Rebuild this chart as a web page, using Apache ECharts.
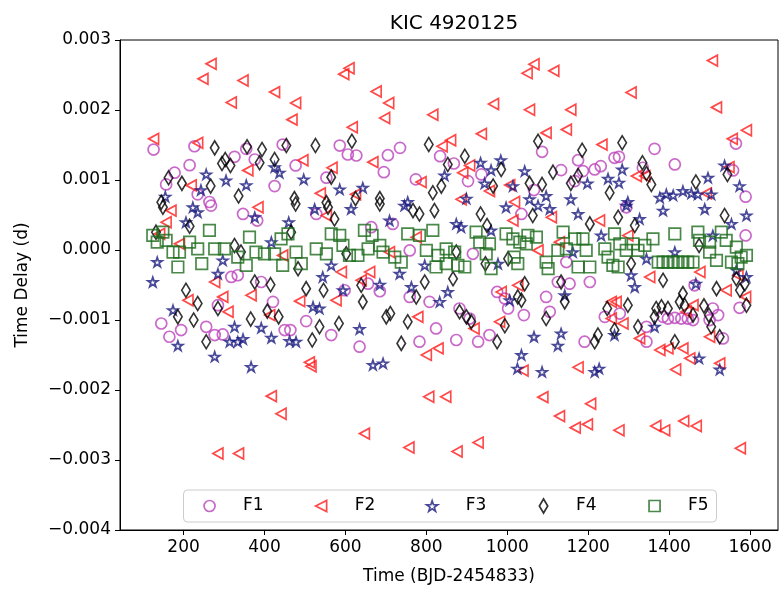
<!DOCTYPE html>
<html>
<head>
<meta charset="utf-8">
<script src="https://cdn.jsdelivr.net/npm/echarts@6/dist/echarts.min.js"></script>
<style>html,body{margin:0;padding:0;background:#fff}#c{width:779px;height:591px}</style>
</head>
<body>
<div id="c"></div>
<script>
const seriesNames = ['F1', 'F2', 'F3', 'F4', 'F5'];
const xTicks = [200, 400, 600, 800, 1000, 1200, 1400, 1600];

const f1 = [[126,0.001435],[227,0.001482],[215,0.001212],[326,0.001331],[376,0.001293],[355,0.001445],[445,0.001506],[178,0.001104],[157,0.000937],[235,0.000795],[425,0.000913],[264,0.000686],
[586,0.001492],[606,0.001364],[627,0.00135],[705,0.001354],[735,0.001459],[695,0.001112],[477,0.001208],[553,0.001033],[774,0.001009],[834,0.00134],
[1086,0.001403],[868,0.001236],[903,0.000984],[936,0.00108],[1133,0.001141],[1175,0.001283],[1187,0.001127],[1216,0.001151],[1231,0.001198],[1265,0.001317],[1066,0.000856],[1167,0.000984],
[1364,0.001445],[1276,0.001331],[1414,0.001222],[1565,0.001521],[1558,0.001137],[1589,0.000762],[1335,0.001175],
[268,0.000634],[347,0.000515],[382,0.000421],[318,-0.000385],[334,-0.000361],[392,-0.000457],[421,-0.000741],[285,-0.000788],[145,-0.00105],[165,-0.001239],[194,-0.001144],[256,-0.001097],[277,-0.001215],[297,-0.001206],[450,-0.001144],
[528,0.000515],[664,0.000326],[717,0.000373],[656,-0.000481],[685,-0.000589],[598,-0.000575],[759,-0.00067],[808,-0.000741],[464,-0.001144],[503,-0.001016],[565,-0.001215],[635,-0.001381],[783,-0.00131],[824,-0.001121],[759,-0.000006],
[1035,0.000515],[915,-0.000054],[1146,-0.000172],[1125,-0.000457],[1154,-0.000481],[1204,-0.000457],[975,-0.000599],[994,-0.000694],[1002,-0.000836],[1096,-0.00067],[1041,-0.00093],[1105,-0.000883],[882,-0.000836],[907,-0.000979],[874,-0.001286],[928,-0.00131],[956,-0.001215],[1191,-0.00131],[1241,-0.000955],
[1589,0.000208],[1463,-0.000504],[1574,-0.000826],[1508,-0.000836],[1385,-0.000955],[1397,-0.000979],[1414,-0.000969],[1430,-0.000979],[1446,-0.000979],[1459,-0.001001],[1500,-0.001001],[1521,-0.00093],[1533,-0.001263],[1344,-0.001097],[1344,-0.00131],[1278,-0.000908],[1294,0.00061]];

const f2 = [[268,0.002659],[248,0.002445],[347,0.002421],[318,0.002108],[425,0.002256],[126,0.001588],[235,0.001531],[359,0.001137],[219,0.000923],
[609,0.002597],[596,0.002512],[676,0.002265],[707,0.0021],[697,0.001886],[477,0.0021],[468,0.001862],[617,0.001753],[816,0.001933],[495,0.001283],[567,0.001175],[668,0.001255],[787,0.00097],[538,0.000809],[625,0.000795],[839,0.001482],
[1066,0.002654],[1049,0.002526],[1115,0.002559],[966,0.002085],[1055,0.002004],[1157,0.002004],[936,0.001659],[1096,0.001673],[1146,0.00172],[860,0.001568],[1234,0.001506],[907,0.001208],[890,0.001104],[1006,0.000927],[956,0.000842],[1018,0.000686],[886,0.000724],
[1507,0.002706],[1306,0.00225],[1517,0.002037],[1591,0.00171],[1556,0.001588],[1548,0.001184],[1319,0.001056],[1340,0.001056],[1492,0.000809],
[169,0.000563],[157,0.000397],[384,0.00061],[277,-0.000457],[297,-0.00067],[310,-0.000883],[367,-0.000646],[211,-0.000717],[413,-0.00093],[141,0.00023],[190,0.000088],
[445,-0.000077],[553,0.000492],[590,-0.000314],[577,-0.000717],[487,-0.000731],[639,-0.000432],[660,-0.000314],[779,-0.000955],[800,-0.001499],[829,-0.001405],[511,-0.001605],[775,0.000183],[709,-0.00003],
[1109,0.000468],[1228,0.000421],[1014,0.000421],[985,-0.000599],[1026,-0.000504],[1076,-0.000006],[981,-0.001026],[918,-0.001121],[1257,-0.000741],[1257,-0.000979],[1129,0.000112],
[1298,0.000208],[1352,-0.000385],[1476,-0.000314],[1541,-0.000575],[1589,-0.00067],[1459,-0.000788],[1269,-0.000741],[1286,-0.00105],[1327,-0.001263],[1500,-0.001239],[1377,-0.001428],[1397,-0.001405],[1434,-0.001405],[1451,-0.001548],[1525,-0.001619],[1570,-0.000361],[1442,-0.000883],
[417,-0.002088],[441,-0.002339],[285,-0.002908],[336,-0.002908],[515,-0.001661],[647,-0.002623],[757,-0.002822],[806,-0.002097],[848,-0.002097],[1039,-0.001723],[1175,-0.001676],[1088,-0.002102],[1206,-0.002196],[1129,-0.002373],[1168,-0.002538],[1198,-0.002491],[928,-0.002751],[876,-0.002879],[1276,-0.002576],[1416,-0.001708],[1367,-0.002515],[1389,-0.002576],[1436,-0.002444],[1467,-0.002515],[1576,-0.002832]];

const f3 = [[256,0.00108],[305,0.000994],[355,0.000927],[425,0.001184],[437,0.001104],[155,0.000762],[243,0.000856],
[497,0.001009],[586,0.000866],[643,0.00089],[754,0.000686],[845,0.001065],
[934,0.001246],[984,0.001283],[960,0.001141],[944,0.000952],[1043,0.001127],[1014,0.000913],[1096,0.000771],[1055,0.000724],[1157,0.000724],[1198,0.000952],[1249,0.001019],[899,0.000734],
[1284,0.001151],[1276,0.000962],[1496,0.001033],[1537,0.001208],[1574,0.000913],[1504,0.000795],[1298,0.000686],[1377,0.000748],[1393,0.000795],[1410,0.000781],[1434,0.000842],[1455,0.000809],[1471,0.000795],
[223,0.00061],[235,0.000539],[376,0.000468],[206,0.000397],[135,-0.000172],[124,-0.000457],[285,-0.000339],[297,-0.000148],[174,-0.000859],[186,-0.001367],[326,-0.001097],[314,-0.00131],[334,-0.00131],[347,-0.001272],[392,-0.001111],[417,-0.001253],[277,-0.001523],[367,-0.00167],[417,0.000112],
[524,0.000586],[614,0.000586],[746,0.000634],[709,0.000421],[460,0.000397],[565,-0.000219],[544,-0.000385],[734,-0.000339],[796,-0.000219],[685,-0.000495],[594,-0.000575],[763,-0.000528],[833,-0.000741],[520,-0.000812],[536,-0.000836],[635,-0.001129],[462,-0.0013],[478,-0.00131],[668,-0.001642],[693,-0.001619],
[997,0.00061],[1076,0.000634],[1105,0.000586],[1175,0.000515],[886,0.000326],[874,0.000373],[960,0.000279],[1006,-0.000717],[1142,-0.000646],[1133,-0.001192],[1066,-0.001239],[1125,-0.001367],[1035,-0.001499],[853,-0.000599],[977,-0.000196],[1232,0.000208],[1162,-0.00003],
[1294,0.000634],[1385,0.000563],[1488,0.000586],[1591,0.000492],[1554,0.000373],[1327,0.000444],[1508,0.000208],[1414,-0.00003],[1344,-0.000125],[1306,-0.000361],[1315,-0.000528],[1466,-0.000481],[1566,-0.00029],[1591,-0.000385],[1364,-0.001097],[1265,-0.001215],[1474,-0.001548],
[1025,-0.001694],[1086,-0.001741],[1216,-0.001741],[1227,-0.001694],[1525,-0.001708]];

const f4 = [[277,0.001459],[357,0.001474],[394,0.001435],[303,0.001293],[295,0.001236],[316,0.001208],[388,0.001246],[425,0.001293],[163,0.001033],[196,0.000952],[267,0.000913],[336,0.000771],[145,0.000681],
[454,0.001492],[526,0.001492],[616,0.001553],[806,0.001506],[565,0.001041],[474,0.000734],[625,0.000734],[685,0.000734],[837,0.000913],[816,0.000819],[553,0.000677],[853,0.001222],
[1076,0.001553],[1185,0.001425],[895,0.00134],[985,0.001151],[965,0.000913],[1113,0.001112],[1055,0.000952],[1086,0.000937],[1157,0.000952],[1175,0.001065],[1253,0.000819],
[1284,0.001531],[1334,0.001246],[1344,0.001094],[1356,0.000937],[1466,0.00097],[1544,0.00108],
[149,0.00061],[215,0.00034],[132,0.000255],[326,0.000065],[342,-0.00003],[206,-0.000575],[235,-0.000765],[285,-0.000836],[186,-0.000955],[225,-0.001001],[376,-0.000457],[415,-0.000495],[407,-0.000873],[366,-0.000987],[435,-0.000955],[256,-0.00131],
[477,0.000657],[557,0.00061],[685,0.000657],[573,0.000444],[466,0.000255],[767,0.000563],[783,0.000515],[820,0.000563],[483,-0.000267],[503,-0.000552],[546,-0.000575],[602,-0.000054],[639,-0.000504],[643,-0.000741],[711,-0.000908],[701,-0.000955],[754,-0.001026],[536,-0.001097],[584,-0.00105],[518,-0.001286],[738,-0.001334],[775,-0.00067],[796,-0.000457],
[934,0.000515],[950,0.00035],[1063,0.000492],[1204,0.000373],[874,-0.00003],[866,-0.00041],[1002,-0.000125],[946,-0.000196],[1043,-0.000481],[1026,-0.00067],[1035,-0.000717],[1133,-0.000457],[1142,-0.000741],[882,-0.000883],[899,-0.000955],[911,-0.001026],[994,-0.001083],[1096,-0.000979],[975,-0.00131],[1247,-0.000836],[1216,-0.00131],[1224,-0.001215],
[1274,0.000468],[1315,0.00035],[1537,0.000492],[1474,0.000065],[1306,-0.000196],[1385,-0.000432],[1517,-0.000552],[1566,-0.00041],[1587,-0.000481],[1575,-0.000575],[1298,-0.000788],[1434,-0.000623],[1368,-0.000836],[1381,-0.000812],[1397,-0.000836],[1426,-0.000741],[1438,-0.000788],[1459,-0.00093],[1486,-0.000798],[1364,-0.000955],[1498,-0.00093],[1591,-0.000788],[1323,-0.001097],[1504,-0.001097],[1525,-0.001239],[1414,-0.00131],[1265,-0.001144]];

const f5 = [[124,0.000208],[149,0.000255],[135,0.000112],[157,0.000137],[174,-0.00003],[186,-0.000243],[215,0.000112],[235,0.000017],[264,0.000279],[245,-0.000196],[277,0.000017],[301,0.000017],[334,-0.000101],[355,-0.000219],[363,0.000183],[379,-0.00003],[400,-0.000054],[425,-0.000054],[441,0.000159],[190,-0.00003],
[458,0.00023],[478,-0.00003],[445,-0.000219],[491,-0.000196],[528,0.000017],[553,-0.000054],[565,0.00023],[586,0.000208],[594,0.000065],[610,-0.000077],[631,-0.000077],[647,0.000279],[666,0.000208],[656,0.000017],[685,0.000065],[693,-0.00003],[722,-0.000101],[738,-0.000172],[754,0.00023],[783,0.000208],[800,-0.000006],[816,0.000279],[829,-0.000077],[824,-0.000243],[849,0.000017],[849,-0.000196],
[870,-0.00003],[878,-0.000219],[895,-0.000243],[923,0.000255],[932,0.000112],[956,0.000088],[948,-0.000054],[960,-0.000267],[997,0.00023],[1014,0.000159],[1031,0.000112],[1051,0.000208],[1072,0.000183],[1047,0.000088],[1026,-0.000196],[1096,-0.000172],[1101,-0.000267],[1125,-0.000006],[1138,0.000255],[1146,0.000017],[1167,0.000159],[1187,0.000159],[1195,-0.000006],[1175,-0.000243],[1204,-0.000243],[1241,0.000017],[1249,-0.000101],[1261,-0.000219],[1017,-0.000101],
[1265,0.00023],[1278,0.000088],[1274,-0.000243],[1294,-0.000006],[1311,0.000088],[1323,-0.000006],[1340,0.000065],[1360,0.000159],[1414,0.00023],[1373,-0.000172],[1385,-0.000172],[1397,-0.000172],[1410,-0.000172],[1422,-0.000172],[1434,-0.000172],[1446,-0.000172],[1459,-0.000172],[1471,0.000255],[1475,0.000137],[1500,0.000112],[1500,-0.00003],[1517,-0.000148],[1529,0.000255],[1541,0.000137],[1566,0.000041],[1554,-0.000172],[1578,-0.000101],[1591,-0.000077],[1570,-0.000196]];

const FONT = 'DejaVu Sans';
const symCircle = 'circle';
const symTriLeft = 'path://M0,5 L10,0 L10,10 Z';
const symStar = 'path://M100,0 L122.45,69.1 L195.1,69.1 L136.3,111.8 L158.8,180.9 L100,138.2 L41.2,180.9 L63.7,111.8 L4.9,69.1 L77.55,69.1 Z';
const symDiamond = 'path://M3,0 L6,5 L3,10 L0,5 Z';
const symSquare = 'path://M0,0 L10,0 L10,10 L0,10 Z';
const colors = ['#bb44bb', '#ff1a1a', '#1c1c80', '#000000', '#1d6b1d'];

function mk(i, data, symbol, size) {
  return {
    name: seriesNames[i], type: 'scatter', data: data, symbol: symbol, symbolSize: size,
    itemStyle: { color: 'rgba(255,255,255,0)', borderColor: colors[i], borderWidth: 1.7 },
    emphasis: { disabled: true }, animation: false
  };
}

// legend: one component per entry, so each sits where the reference has it
const legCenters = [208.7, 320.3, 431.3, 543, 653.7];
const legIcons = [symCircle, symTriLeft, symStar, symDiamond, symSquare];
const legSizes = [[11, 11], [11, 11], [11, 11], [9, 14], [11, 11]];
const legends = seriesNames.map(function (n, i) {
  const w = legSizes[i][0], h = legSizes[i][1];
  return {
    data: [{ name: n, icon: legIcons[i] }], z: 110, selectedMode: false,
    left: legCenters[i] - w / 2, top: 496, padding: 0,
    itemWidth: w, itemHeight: h, itemGap: 0,
    itemStyle: { color: 'rgba(255,255,255,0)', borderColor: colors[i], borderWidth: 1.7 },
    textStyle: { fontFamily: FONT, fontSize: 17, color: '#000', lineHeight: 20, padding: [0, 0, 0, 23] }
  };
});

const chart = echarts.init(document.getElementById('c'), null, { renderer: 'canvas' });
chart.setOption({
  animation: false,
  backgroundColor: '#ffffff',
  title: {
    text: 'KIC 4920125', left: 449, top: 9, textAlign: 'center',
    textStyle: { fontFamily: FONT, fontSize: 20, fontWeight: 'normal', color: '#000' }
  },
  grid: { left: 120, right: 1, top: 40, bottom: 61, show: true, borderColor: '#000', borderWidth: 1, backgroundColor: 'rgba(0,0,0,0)' },
  xAxis: {
    type: 'value', min: 43, max: 1669,
    name: 'Time (BJD-2454833)', nameLocation: 'middle', nameGap: 38,
    nameTextStyle: { fontFamily: FONT, fontSize: 17, color: '#000' },
    axisLine: { show: true, onZero: false, lineStyle: { color: '#000', width: 1 } },
    axisTick: { show: true, length: 5, inside: false, customValues: xTicks, lineStyle: { color: '#000' } },
    axisLabel: { margin: 9, customValues: xTicks, fontFamily: FONT, fontSize: 17, color: '#000',
      formatter: function (v) { return String(Math.round(v)); } },
    splitLine: { show: false }
  },
  yAxis: {
    type: 'value', min: -0.004, max: 0.003, interval: 0.001,
    name: 'Time Delay (d)', nameLocation: 'middle', nameGap: 89, nameRotate: 90,
    nameTextStyle: { fontFamily: FONT, fontSize: 17, color: '#000' },
    axisLine: { show: true, onZero: false, lineStyle: { color: '#000', width: 1 } },
    axisTick: { show: true, length: 5, inside: false, lineStyle: { color: '#000' } },
    axisLabel: {
      margin: 9, fontFamily: FONT, fontSize: 17, color: '#000',
      formatter: function (v) { return (v < -1e-9 ? '\u2212' : '') + Math.abs(v).toFixed(3); }
    },
    splitLine: { show: false }
  },
  graphic: [{
    type: 'rect', z: 100,
    shape: { x: 183.5, y: 490, width: 533, height: 32, r: 4 },
    style: { fill: 'rgba(255,255,255,0.8)', stroke: '#cccccc', lineWidth: 1 }
  }],
  legend: legends,
  series: [
    mk(0, f1, symCircle, 11),
    mk(1, f2, symTriLeft, [10, 11]),
    mk(2, f3, symStar, [10, 9.5]),
    mk(3, f4, symDiamond, [8.5, 14]),
    mk(4, f5, symSquare, 11.5)
  ]
});
</script>
</body>
</html>
